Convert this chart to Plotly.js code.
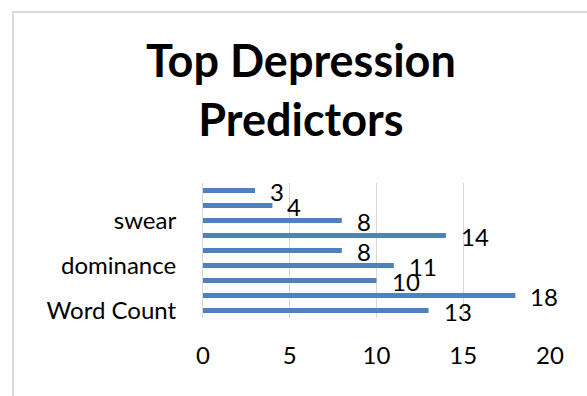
<!DOCTYPE html>
<html>
<head>
<meta charset="utf-8">
<script src="https://cdn.plot.ly/plotly-3.0.1.min.js"></script>
<style>
html,body{margin:0;padding:0;background:#fff;}
#wrap{position:relative;width:587px;height:396px;}
#chart{position:absolute;left:0;top:0;width:587px;height:396px;}
#frame{position:absolute;left:12px;top:11px;width:600px;height:400px;border-left:2px solid #d9d9d9;border-top:2px solid #d9d9d9;pointer-events:none;}
</style>
</head>
<body>
<div id="wrap"><div id="chart"></div><div id="frame"></div></div>
<script>
// Bottom to top
const categories = ["Word Count", "", "", "dominance", "", "", "swear", "", ""];
const values = [13, 18, 10, 11, 8, 14, 8, 4, 3];
const xTicks = [0, 5, 10, 15, 20];
const titleText = "Top Depression<br>Predictors";

const positions = categories.map((c, i) => i);
const tickvals = positions.filter(i => categories[i] !== "");
const ticktext = tickvals.map(i => categories[i]);

const FONT = "Lato, 'Open Sans', sans-serif";

const trace = {
  type: "bar",
  orientation: "h",
  x: values,
  y: positions,
  marker: {color: "#4f81bd"},
  hoverinfo: "none"
};

const annotations = values.map((v, i) => ({
  x: v, y: positions[i], xref: "x", yref: "y",
  text: String(v), showarrow: false,
  xanchor: "left", yanchor: "middle",
  xshift: 13, yshift: -1,
  font: {family: FONT, size: 24, color: "#000"}
}));

annotations.push({
  text: titleText, showarrow: false,
  xref: "paper", yref: "paper",
  x: 0.282, y: 1.689,
  xanchor: "center", yanchor: "middle",
  align: "center",
  font: {family: FONT, size: 45, color: "#000", weight: "bold"}
});

const layout = {
  width: 587, height: 396,
  margin: {l: 203, r: 37, t: 183, b: 78},
  paper_bgcolor: "rgba(0,0,0,0)",
  plot_bgcolor: "rgba(0,0,0,0)",
  showlegend: false,
  bargap: 0.66,
  xaxis: {
    range: [0, 20],
    tickvals: xTicks,
    showgrid: true, gridcolor: "#d9d9d9", gridwidth: 1,
    zeroline: false,
    showline: false,
    ticks: "",
    ticklabelstandoff: 21,
    tickfont: {family: FONT, size: 24, color: "#000"},
    fixedrange: true
  },
  yaxis: {
    range: [-0.5, 8.5],
    tickvals: tickvals,
    ticktext: ticktext,
    showgrid: false,
    zeroline: false,
    showline: true, linecolor: "#d9d9d9", linewidth: 1,
    ticks: "",
    ticklabelstandoff: 21,
    tickfont: {family: FONT, size: 24, color: "#000"},
    fixedrange: true
  },
  annotations: annotations
};

Plotly.newPlot("chart", [trace], layout, {staticPlot: true, displayModeBar: false});
</script>
</body>
</html>
